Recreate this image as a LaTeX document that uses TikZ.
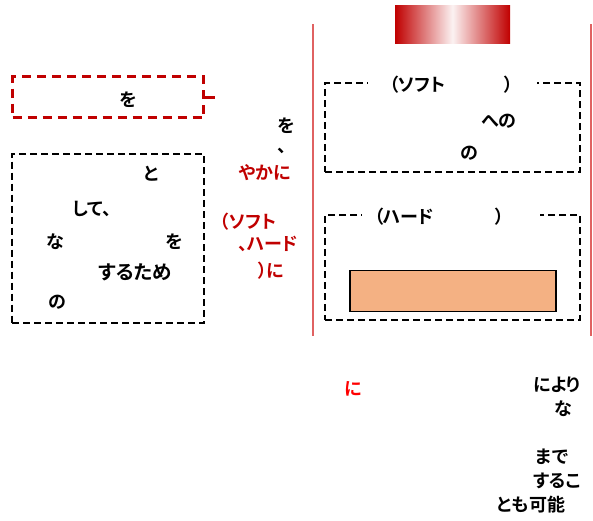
\documentclass[tikz,border=0pt]{standalone}
\usepackage{fontspec}
\setmainfont{Noto Sans CJK JP}
\newfontfamily\jpheavy{Noto Sans CJK JP}[UprightFont={* Bold},RawFeature=+palt]
\usetikzlibrary{positioning}
\definecolor{jpred}{HTML}{C00000}
\definecolor{jpbright}{HTML}{FF0000}
\definecolor{jpline}{HTML}{E06262}
\definecolor{jporange}{HTML}{F4B183}
\tikzset{
  txt/.style={font=\fontsize{18}{20}\selectfont\jpheavy,inner sep=0pt,text=black},
  bigtxt/.style={txt,font=\fontsize{19.5}{22}\selectfont\jpheavy},
  redtxt/.style={txt,text=jpred},
  dashbox/.style={draw=black,dash pattern=on 7pt off 4pt,line width=2pt,inner sep=0pt},
  reddashbox/.style={draw=jpred,dash pattern=on 9pt off 6pt,line width=2.6pt,inner sep=0pt},
  boxtitle/.style={txt,fill=white,inner ysep=2pt},
  sideline/.style={draw=jpline,line width=1.1pt},
  stub/.style={draw=jpred,line width=3pt}
}
\begin{document}
\begin{tikzpicture}[x=1pt,y=-1pt]
\useasboundingbox (0,0) rectangle (593,520);
% left side
\node[reddashbox,minimum width=191,minimum height=41] (goal) at (108,97) {};
\node[txt] (goalwo) at (128,100) {を};
\coordinate (stubend) at (215,97);
\draw[stub] (goal.east) -- (stubend);
\node[dashbox,minimum width=192,minimum height=169] (purpose) at (108,238) {};
\node[txt] (pto) at (151,174) {と};
\node[txt] (pshite) at (92,209) {して、};
\node[txt] (pna) at (55,242) {な};
\node[txt] (pwo) at (174,242) {を};
\node[bigtxt] (psuru) at (135,272) {するため};
\node[txt] (pno) at (57,302) {の};
% middle column
\node[txt] (mwo) at (286,126) {を};
\node[txt] (mten) at (282,151) {、};
\node[redtxt] (myaka) at (265,173) {やかに};
\node[redtxt] (msoft) at (248,222) {（ソフト};
\node[redtxt] (mhard) at (268,244) {、ハード};
\node[redtxt] (mni) at (271,271) {）に};
% right side
\draw[sideline] (313,24) -- (313,336);
\draw[sideline] (591,24) -- (591,336);
\path[left color=jpred,right color=jpred,middle color=jpred!5] (395,5) rectangle (510,43);
\node[dashbox,minimum width=255,minimum height=89] (softbox) at (452.5,127.5) {};
\node[boxtitle,inner xsep=0pt,minimum width=169,minimum height=20] (softtitle) at (452.5,85) {};
\node[txt,anchor=west] (softl) at (389,85) {（ソフト};
\node[txt] (softr) at (509,85) {）};
\node[txt] (sheno) at (499,121) {への};
\node[txt] (sno) at (469,153) {の};
\node[dashbox,minimum width=255,minimum height=105] (hardbox) at (452.5,267.5) {};
\node[boxtitle,inner xsep=0pt,minimum width=178,minimum height=20] (hardtitle) at (451,217) {};
\node[txt,anchor=west] (hardl) at (374,217) {（ハード};
\node[txt] (hardr) at (500,217) {）};
\node[draw=black,line width=1.2pt,fill=jporange,minimum width=206,minimum height=41] (hardbar) at (453,291) {};
% bottom
\node[txt,text=jpbright] (bni) at (353,389) {に};
\node[txt] (rniyori) at (557,385) {により};
\node[txt] (rna) at (563,409) {な};
\node[txt] (rmade) at (552,457) {まで};
\node[txt] (rsuruko) at (557,481) {するこ};
\node[txt] (rkanou) at (531,505) {とも可能};
\end{tikzpicture}
\end{document}
